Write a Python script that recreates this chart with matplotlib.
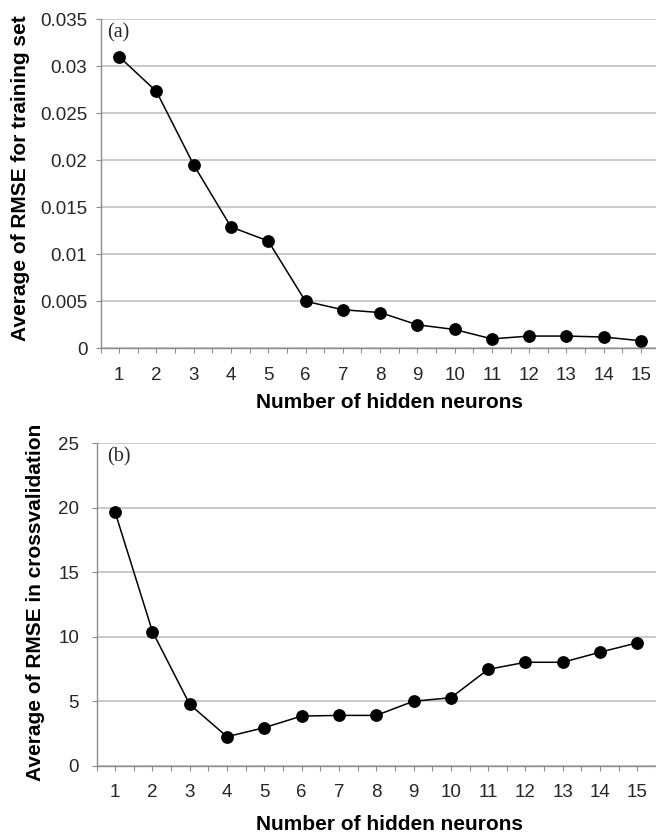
import matplotlib
matplotlib.use("Agg")
import matplotlib.pyplot as plt
from matplotlib.ticker import FixedLocator

plt.rcParams['font.family'] = ['Liberation Sans', 'DejaVu Sans']

neurons = list(range(1, 16))
rmse_train = [0.0310, 0.0273, 0.0195, 0.0129, 0.0114, 0.0050, 0.0041, 0.0038,
              0.0025, 0.0020, 0.0010, 0.0013, 0.0013, 0.0012, 0.0008]
rmse_cv = [19.65, 10.4, 4.75, 2.25, 2.95, 3.85, 3.9, 3.9,
           5.0, 5.27, 7.47, 8.02, 8.02, 8.8, 9.53]
train_yticks = [0, 0.005, 0.01, 0.015, 0.02, 0.025, 0.03, 0.035]
train_yticklabels = ['0', '0.005', '0.01', '0.015', '0.02', '0.025', '0.03', '0.035']
cv_yticks = [0, 5, 10, 15, 20, 25]
cv_yticklabels = ['0', '5', '10', '15', '20', '25']

W, H = 656, 836
fig = plt.figure(figsize=(W / 100, H / 100), dpi=100)

grid_c = '#c0c0c0'
spine_c = '#8c8c8c'
text_c = '#262626'


def px_axes(left, right, top, bottom):
    return fig.add_axes([left / W, 1 - bottom / H, (right - left) / W, (bottom - top) / H])


def style(ax, yticks, ylabels, ymax, ypad):
    ax.set_xlim(0.5, 15.5)
    ax.set_ylim(0, ymax)
    ax.set_yticks(yticks)
    ax.set_yticklabels(ylabels)
    ax.set_xticks(neurons)
    ax.set_xticklabels([str(n) for n in neurons])
    ax.xaxis.set_minor_locator(FixedLocator([n + 0.5 for n in range(0, 16)]))
    for s in ['top', 'right']:
        ax.spines[s].set_visible(False)
    for s in ['left', 'bottom']:
        ax.spines[s].set_color(spine_c)
        ax.spines[s].set_linewidth(1.0)
    ax.yaxis.grid(True, color=grid_c, linewidth=1.2)
    ax.set_axisbelow(True)
    ax.tick_params(axis='x', which='both', direction='out', length=3.5, width=0.8,
                   color=spine_c, labelsize=13.5, labelcolor=text_c, pad=10)
    ax.tick_params(axis='y', which='both', direction='out', length=3.5, width=0.8,
                   color=spine_c, labelsize=13.5, labelcolor=text_c, pad=ypad)


ax1 = px_axes(100.5, 659.6, 19, 348.3)
ax1.plot(neurons, rmse_train, color='black', linewidth=1.1, marker='o',
         markersize=8.2, markerfacecolor='black', markeredgecolor='black', clip_on=False)
style(ax1, train_yticks, train_yticklabels, 0.035, 6)
fig.text(107 / W, 1 - 33 / H, '(a)', family=['Liberation Serif'], fontsize=14.5,
         ha='left', va='center', color=text_c)

ax2 = px_axes(96.5, 656, 443.3, 765.7)
ax2.plot(neurons, rmse_cv, color='black', linewidth=1.1, marker='o',
         markersize=8.2, markerfacecolor='black', markeredgecolor='black', clip_on=False)
style(ax2, cv_yticks, cv_yticklabels, 25, 9)
fig.text(107 / W, 1 - 457 / H, '(b)', family=['Liberation Serif'], fontsize=14.5,
         ha='left', va='center', color=text_c)

fig.text(21 / W, 1 - 178 / H, 'Average of RMSE for training set', rotation=90,
         ha='center', va='center', fontsize=15, fontweight='bold', color='black')
fig.text(36 / W, 1 - 602 / H, 'Average of RMSE in crossvalidation', rotation=90,
         ha='center', va='center', fontsize=15, fontweight='bold', color='black')
fig.text(390 / W, 1 - 403 / H, 'Number of hidden neurons',
         ha='center', va='center', fontsize=15, fontweight='bold', color='black')
fig.text(390 / W, 1 - 825 / H, 'Number of hidden neurons',
         ha='center', va='center', fontsize=15, fontweight='bold', color='black')

fig.savefig('out.png', dpi=100)
